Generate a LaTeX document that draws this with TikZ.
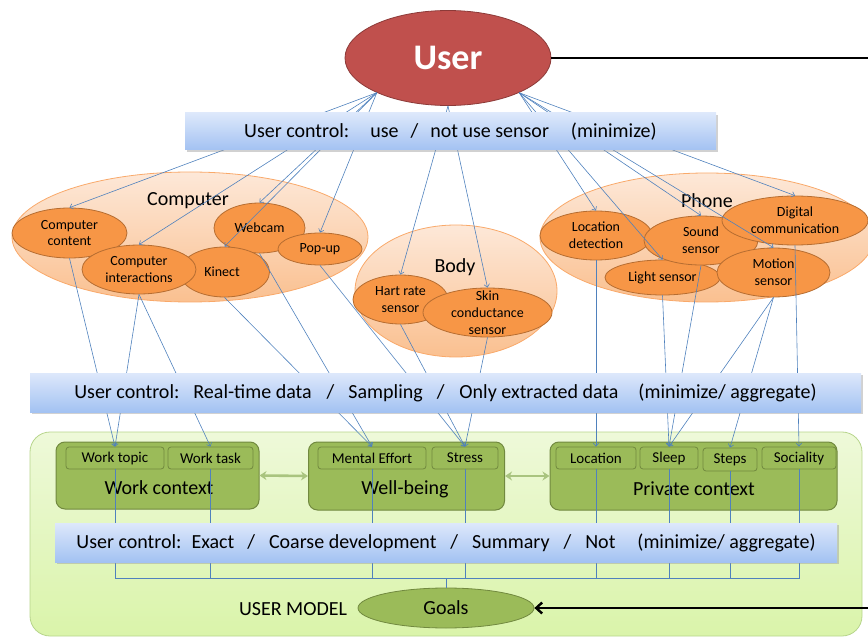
\documentclass[tikz,border=0pt]{standalone}
\usepackage{fontspec}
\setmainfont{Carlito}
\usetikzlibrary{shapes.geometric,arrows.meta,shadows}
\definecolor{userred}{HTML}{C0504D}
\definecolor{userborder}{HTML}{8C3A38}
\definecolor{connblue}{HTML}{4F81BD}
\definecolor{sensfill}{HTML}{F79646}
\definecolor{sensborder}{HTML}{B66D31}
\definecolor{clustertop}{HTML}{FDE8D8}
\definecolor{clusterbot}{HTML}{FAC090}
\definecolor{clusterborder}{HTML}{F9A96A}
\definecolor{greenfill}{HTML}{9BBB59}
\definecolor{greenborder}{HTML}{71893F}
\definecolor{regiontop}{HTML}{EEF9D9}
\definecolor{regionbot}{HTML}{DAF4AA}
\definecolor{regionborder}{HTML}{B7D58C}
\definecolor{bartop}{HTML}{DDE8FB}
\definecolor{barbot}{HTML}{A3C2F2}
\definecolor{dblgreen}{HTML}{A9C47F}
\begin{document}
\begin{tikzpicture}[x=1pt,y=-1pt,
  f20/.style={font=\fontsize{20}{24}\selectfont},
  f15/.style={font=\fontsize{15}{18}\selectfont},
  f14/.style={font=\fontsize{14}{16.7}\selectfont},
  usernode/.style={ellipse, fill=userred, draw=userborder, line width=0.8pt, inner sep=0pt,
    text=white, font=\fontsize{36}{40}\bfseries\selectfont},
  cluster/.style={ellipse, top color=clustertop, bottom color=clusterbot, draw=clusterborder, line width=0.8pt, inner sep=0pt},
  sensor/.style={ellipse, fill=sensfill, draw=sensborder, line width=0.8pt, inner sep=0pt},
  region/.style={rectangle, rounded corners=20pt, top color=regiontop, bottom color=regionbot, draw=regionborder, line width=0.8pt, inner sep=0pt},
  ctx/.style={rectangle, rounded corners=9pt, fill=greenfill, draw=greenborder, line width=1pt, inner sep=0pt},
  sub/.style={rectangle, rounded corners=3pt, fill=greenfill, draw=greenborder, line width=0.8pt, inner sep=0pt, minimum height=22pt, f15},
  goalnode/.style={ellipse, fill=greenfill, draw=greenborder, line width=0.8pt, inner sep=0pt, f20},
  bar/.style={rectangle, top color=bartop, bottom color=barbot, inner sep=0pt, f20,
    drop shadow={shadow xshift=1.5pt, shadow yshift=-2pt, fill=black!40, opacity=0.45}},
  conn/.style={draw=connblue, line width=0.6pt},
  arr/.style={conn, -{Straight Barb[length=3pt,width=5.5pt]}},
  dbl/.style={draw=dblgreen, line width=2.6pt, {Stealth[length=7pt,width=9pt]}-{Stealth[length=7pt,width=9pt]}},
  blk/.style={draw=black, line width=2.4pt}]
\useasboundingbox (0,0) rectangle (868,639);

% user model region
\node[region, minimum width=832, minimum height=204] (um) at (446,534) {};

% clusters
\node[cluster, minimum width=356, minimum height=130] (comp) at (190,237) {};
\node[cluster, minimum width=202, minimum height=132] (body) at (456,291) {};
\node[cluster, minimum width=334, minimum height=129] (phone) at (707,237.5) {};

% sensors
\node[sensor, minimum width=91, minimum height=50] (webcam) at (259.5,228) {};
\node[sensor, minimum width=84, minimum height=32] (popup) at (320,249) {};
\node[sensor, minimum width=90, minimum height=50] (kinect) at (224.5,272) {};
\node[sensor, minimum width=115, minimum height=50] (ccontent) at (69.5,233) {};
\node[sensor, minimum width=114, minimum height=49] (cinter) at (139,269.5) {};
\node[sensor, minimum width=95, minimum height=49] (hart) at (400.5,299.5) {};
\node[sensor, minimum width=129, minimum height=49] (skin) at (487.5,312.5) {};
\node[sensor, minimum width=112, minimum height=49] (locdet) at (596,235.5) {};
\node[sensor, minimum width=115, minimum height=35] (light) at (662.5,277.5) {};
\node[sensor, minimum width=114, minimum height=49] (sound) at (701,240.5) {};
\node[sensor, minimum width=113, minimum height=49] (motion) at (773.5,272.5) {};
\node[sensor, minimum width=146, minimum height=49] (digital) at (795,220.5) {};

% sensor texts
\node[f14, align=center] (tccontent) at (ccontent) {Computer\\content};
\node[f14, align=center] (tcinter) at (cinter) {Computer\\interactions};
\node[f14] (tkinect) at (222,272) {Kinect};
\node[f14] (twebcam) at (webcam) {Webcam};
\node[f14] (tpopup) at (popup) {Pop-up};
\node[f14, align=center] (thart) at (hart) {Hart rate\\sensor};
\node[f14, align=center] (tskin) at (skin) {Skin\\conductance\\sensor};
\node[f14, align=center] (tlocdet) at (locdet) {Location\\detection};
\node[f14, align=center] (tsound) at (sound) {Sound\\sensor};
\node[f14, align=center] (tdigital) at (digital) {Digital\\communication};
\node[f14] (tlight) at (light) {Light sensor};
\node[f14, align=center] (tmotion) at (motion) {Motion\\sensor};

% cluster labels
\node[f20] (tcomp) at (188,201) {Computer};
\node[f20] (tbody) at (455,267) {Body};
\node[f20] (tphone) at (707,201) {Phone};

% context boxes
\node[ctx, minimum width=203, minimum height=67] (wc) at (157.5,475.5) {};
\node[ctx, minimum width=196, minimum height=68] (wb) at (406.5,476) {};
\node[ctx, minimum width=287, minimum height=68] (pc) at (693.5,476) {};
\node[sub, minimum width=98] (wtopic) at (115,458) {Work topic};
\node[sub, minimum width=85] (wtask) at (210.5,458) {Work task};
\node[sub, minimum width=108] (ment) at (372,458) {Mental Effort};
\node[sub, minimum width=66] (stress) at (465,458) {Stress};
\node[sub, minimum width=80] (loc) at (596,458) {Location};
\node[sub, minimum width=58] (sleep) at (669,458) {Sleep};
\node[sub, minimum width=54, minimum height=23] (steps) at (730,459.5) {Steps};
\node[sub, minimum width=74] (soc) at (799,458) {Sociality};
\node[f20] (twc) at (159,488) {Work context};
\node[f20] (twb) at (405,489) {Well-being};
\node[f20] (tpc) at (694,489) {Private context};
\draw[dbl] (wc.east) -- (wb.west);
\draw[dbl] (wb.east) -- (pc.west);

% goals
\node[goalnode, minimum width=176, minimum height=40] (goals) at (446,608) {Goals};
\node[f20] (tum) at (293,609) {USER MODEL};

% user
\node[usernode, minimum width=206, minimum height=95] (user) at (448,58) {User};

% connectors user -> sensors
\draw[arr] (user.206) -- (ccontent.north);
\draw[arr] (user.206) -- (cinter.north);
\draw[arr] (user.206) -- (webcam.north);
\draw[arr] (user.206) -- (kinect.north);
\draw[arr] (user.206) -- (popup.north);
\draw[arr] (user.south) -- (hart.north);
\draw[arr] (user.south) -- (skin.north);
\draw[arr] (user.334) -- (locdet.north);
\draw[arr] (user.334) -- (sound.north);
\draw[arr] (user.334) -- (digital.north);
\draw[arr] (user.334) -- (light.north);
\draw[arr] (user.334) -- (motion.north);

% connectors sensors -> model
\draw[arr] (ccontent.south) -- (wtopic.north);
\draw[arr] (cinter.south) -- (wtopic.north);
\draw[arr] (cinter.south) -- (wtask.north);
\draw[arr] (kinect.south) -- (ment.north);
\draw[arr] (webcam.south) -- (ment.north);
\draw[arr] (popup.south) -- (stress.north);
\draw[arr] (hart.south) -- (stress.north);
\draw[arr] (skin.south) -- (stress.north);
\draw[arr] (locdet.south) -- (loc.north);
\draw[arr] (light.south) -- (sleep.north);
\draw[arr] (sound.south) -- (sleep.north);
\draw[arr] (motion.south) -- (sleep.north);
\draw[arr] (motion.south) -- (steps.north);
\draw[arr] (digital.south) -- (soc.north);

% model -> goals
\coordinate (hl) at (446,578);
\draw[conn] (wtopic.south) |- (soc.south |- hl) -- (soc.south);
\draw[conn] (wtask.south) -- (wtask.south |- hl);
\draw[conn] (ment.south) -- (ment.south |- hl);
\draw[conn] (stress.south) -- (stress.south |- hl);
\draw[conn] (loc.south) -- (loc.south |- hl);
\draw[conn] (sleep.south) -- (sleep.south |- hl);
\draw[conn] (steps.south) -- (steps.south |- hl);
\draw[conn] (hl) -- (goals.north);

% bars
\node[bar, minimum width=531, minimum height=37] (bar1) at (450.5,131.5)
  {User control:\hspace{21pt}use\hspace{12pt}/\hspace{12pt}not use sensor\hspace{22pt}(minimize)};
\node[bar, minimum width=831, minimum height=39] (bar2) at (445.5,392.5)
  {User control:\hspace{14pt}Real-time data\hspace{15pt}/\hspace{14pt}Sampling\hspace{14pt}/\hspace{15pt}Only extracted data\hspace{20pt}(minimize/ aggregate)};
\node[bar, minimum width=782, minimum height=39] (bar3) at (446,542.5)
  {User control:\hspace{10pt}Exact\hspace{13pt}/\hspace{14pt}Coarse development\hspace{14pt}/\hspace{14pt}Summary\hspace{14pt}/\hspace{14pt}Not\hspace{22pt}(minimize/ aggregate)};

% black feedback line
\coordinate (re1) at (868,58);
\coordinate (re2) at (868,608);
\draw[blk] (user.east) -- (re1);
\draw[blk, -{Straight Barb[length=6pt,width=11pt]}] (re2) -- (goals.east);
\end{tikzpicture}
\end{document}
